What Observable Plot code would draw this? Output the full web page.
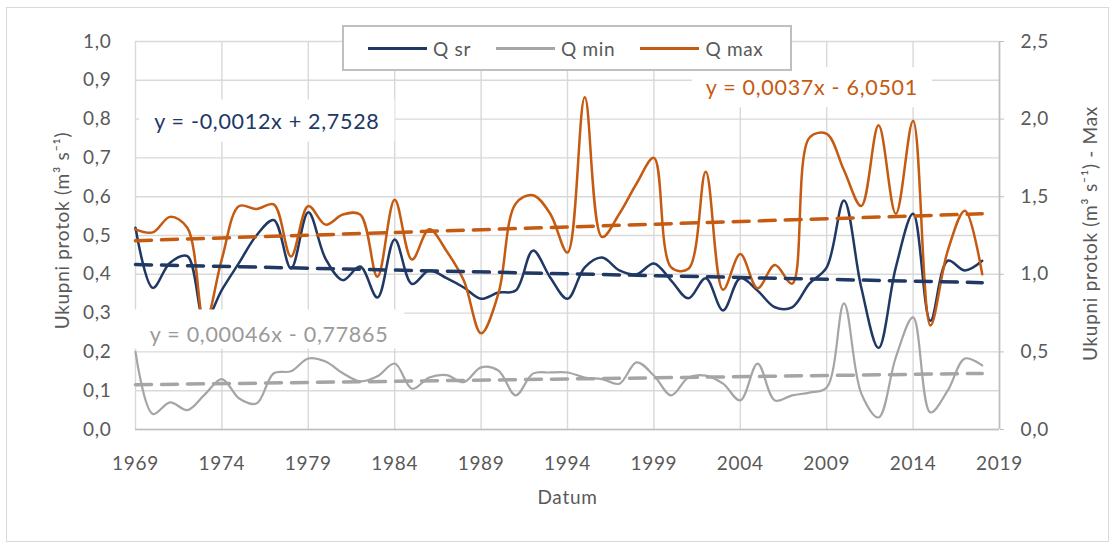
<!DOCTYPE html>
<html><head><meta charset="utf-8">
<script src="https://cdn.jsdelivr.net/npm/d3@7"></script>
<script src="https://cdn.jsdelivr.net/npm/@observablehq/plot@0.6"></script>
<style>
html,body{margin:0;padding:0;background:#fff;}
#wrap{position:relative;width:1115px;height:546px;font-family:Lato,"Open Sans",sans-serif;}
#wrap svg text{letter-spacing:0.7px;}
#border{position:absolute;left:6px;top:7px;width:1103px;height:535px;border:1px solid #d9d9d9;box-sizing:border-box;pointer-events:none;}
#legend{position:absolute;left:342px;top:25px;width:450px;height:46px;box-sizing:border-box;border:2px solid #bfbfbf;background:#fff;display:flex;align-items:center;padding-left:24px;color:#595959;font-size:19px;letter-spacing:0.7px;white-space:nowrap;}
#legend .item{display:flex;align-items:center;flex-shrink:0;white-space:nowrap;}
#legend .item + .item{margin-left:25px;}
#legend .sw{width:59px;height:3px;margin-right:6px;flex-shrink:0;}
</style></head><body>
<div id="wrap"><div id="border"></div></div>
<script>
const years = [1969,1970,1971,1972,1973,1974,1975,1976,1977,1978,1979,1980,1981,1982,1983,1984,1985,1986,1987,1988,1989,1990,1991,1992,1993,1994,1995,1996,1997,1998,1999,2000,2001,2002,2003,2004,2005,2006,2007,2008,2009,2010,2011,2012,2013,2014,2015,2016,2017,2018];
const qSr = [0.52,0.365,0.43,0.447,0.28,0.36,0.43,0.50,0.54,0.415,0.56,0.44,0.385,0.42,0.34,0.49,0.375,0.41,0.39,0.366,0.337,0.353,0.358,0.461,0.392,0.337,0.418,0.443,0.41,0.40,0.428,0.384,0.338,0.39,0.307,0.39,0.358,0.315,0.315,0.376,0.418,0.59,0.366,0.21,0.418,0.556,0.28,0.435,0.41,0.435];
const qMin = [0.20,0.04,0.07,0.05,0.09,0.13,0.08,0.067,0.145,0.15,0.183,0.175,0.145,0.124,0.137,0.17,0.105,0.134,0.14,0.122,0.16,0.152,0.088,0.144,0.147,0.147,0.134,0.13,0.118,0.173,0.139,0.088,0.134,0.139,0.118,0.075,0.17,0.075,0.088,0.095,0.108,0.325,0.093,0.031,0.186,0.289,0.044,0.10,0.183,0.165];
const qMax = [1.29,1.27,1.37,1.30,0.68,1.10,1.44,1.42,1.45,1.115,1.44,1.32,1.385,1.385,0.985,1.48,1.095,1.29,1.15,0.96,0.62,0.875,1.455,1.51,1.39,1.14,2.14,1.24,1.39,1.585,1.75,1.045,1.035,1.66,0.90,1.13,0.91,1.06,0.94,1.88,1.905,1.67,1.44,1.96,1.39,1.99,0.67,1.15,1.41,1.00];
const seriesNames = ["Q sr","Q min","Q max"];
const xTicks = [1969,1974,1979,1984,1989,1994,1999,2004,2009,2014,2019];
const yTicks = [0,0.1,0.2,0.3,0.4,0.5,0.6,0.7,0.8,0.9,1.0];
const yRightTicks = [0,0.5,1.0,1.5,2.0,2.5];
const equationTexts = ["y = -0,0012x + 2,7528","y = 0,00046x - 0,77865","y = 0,0037x - 6,0501"];
const xTitle = "Datum";
const yTitle = "Ukupni protok (m³ s⁻¹)";
const y2Title = "Ukupni protok (m³ s⁻¹) - Max";

const LEFT_MAX = 1.0, RIGHT_MAX = 2.5;
const k = LEFT_MAX / RIGHT_MAX;
const colors = {sr: "#203864", min: "#a5a5a5", max: "#c55a11"};
const eqColors = {sr: "#203864", min: "#9a9a9a", max: "#c55a11"};
const rows = years.map((year, i) => ({year, sr: qSr[i], min: qMin[i], max: qMax[i] * k}));
const fmt = v => v.toFixed(1).replace(".", ",");
const dash = "16,10";

const chart = Plot.plot({
  width: 1115, height: 546,
  marginTop: 41, marginBottom: 117, marginLeft: 135, marginRight: 116,
  style: {fontFamily: "Lato, 'Open Sans', sans-serif", fontSize: "19px", color: "#595959", background: "transparent"},
  x: {domain: [1969, 2019]},
  y: {domain: [0, 1]},
  marks: [
    Plot.gridY(yTicks, {stroke: "#d9d9d9", strokeOpacity: 1, strokeWidth: 1.4}),
    Plot.gridX(xTicks, {stroke: "#d9d9d9", strokeOpacity: 1, strokeWidth: 1.4}),
    Plot.ruleY([0], {stroke: "#bfbfbf", strokeWidth: 1.6}),
    Plot.ruleX([2019], {stroke: "#bfbfbf", strokeWidth: 1.6}),
    Plot.axisX(xTicks, {tickFormat: d => String(d), tickSize: 0, tickPadding: 27, label: null, fontSize: 19}),
    Plot.axisY(yTicks, {tickFormat: fmt, tickSize: 0, tickPadding: 24, label: null, fontSize: 19}),
    Plot.axisY(yRightTicks.map(v => v * k), {anchor: "right", tickFormat: v => fmt(v / k), tickSize: 4, tickPadding: 17, stroke: "#bfbfbf", label: null, fontSize: 19}),
    Plot.text([xTitle], {frameAnchor: "bottom", dy: 68, textAnchor: "middle", lineAnchor: "middle", fontSize: 19, fill: "#595959"}),
    Plot.text([yTitle], {frameAnchor: "left", dx: -73, dy: -5, rotate: -90, textAnchor: "middle", lineAnchor: "middle", fontSize: 19, fill: "#595959"}),
    Plot.text([y2Title], {frameAnchor: "right", dx: 91, dy: -2, rotate: -90, textAnchor: "middle", lineAnchor: "middle", fontSize: 19, fill: "#595959"}),
    Plot.line(rows, {x: "year", y: "sr", curve: "catmull-rom", stroke: colors.sr, strokeWidth: 2.5}),
    Plot.line(rows, {x: "year", y: "min", curve: "catmull-rom", stroke: colors.min, strokeWidth: 2.2}),
    Plot.line(rows, {x: "year", y: "max", curve: "catmull-rom", stroke: colors.max, strokeWidth: 2.5}),
    Plot.linearRegressionY(rows, {x: "year", y: "sr", ci: 0, stroke: colors.sr, strokeWidth: 3.5, strokeDasharray: dash}),
    Plot.linearRegressionY(rows, {x: "year", y: "min", ci: 0, stroke: colors.min, strokeWidth: 3.5, strokeDasharray: dash}),
    Plot.linearRegressionY(rows, {x: "year", y: "max", ci: 0, stroke: colors.max, strokeWidth: 3.5, strokeDasharray: dash}),
    Plot.text([equationTexts[0]], {x: [1976.6], y: [0.791], fill: eqColors.sr, fontSize: 21.5, textAnchor: "middle"}),
    Plot.text([equationTexts[1]], {x: [1976.73], y: [0.242], fill: eqColors.min, fontSize: 21.5, textAnchor: "middle"}),
    Plot.text([equationTexts[2]], {x: [2008.14], y: [0.879], fill: eqColors.max, fontSize: 21.5, textAnchor: "middle"})
  ]
});

const wrap = document.getElementById("wrap");
wrap.insertBefore(chart, wrap.firstChild);

// white boxes behind trendline equations (like Excel label boxes): [padX, above centre, below centre]
const boxPads = [[15, 22, 20], [16, 25, 14], [14, 20, 20]];
d3.select(chart).selectAll("text").each(function() {
  const idx = equationTexts.indexOf(this.textContent);
  if (idx < 0) return;
  const [px, up, down] = boxPads[idx];
  const b = this.getBBox();
  const cy = b.y + b.height / 2;
  const r = document.createElementNS("http://www.w3.org/2000/svg", "rect");
  r.setAttribute("x", b.x - px);
  r.setAttribute("y", cy - up);
  r.setAttribute("width", b.width + 2 * px);
  r.setAttribute("height", up + down);
  r.setAttribute("fill", "#fff");
  r.setAttribute("stroke", "none");
  const t = this.getAttribute("transform");
  if (t) r.setAttribute("transform", t);
  this.parentNode.insertBefore(r, this);
});

// legend (overlaying the plot top like in the original)
const legend = d3.select(wrap).append("div").attr("id", "legend");
const legendColors = [colors.sr, colors.min, colors.max];
seriesNames.forEach((name, i) => {
  const it = legend.append("div").attr("class", "item");
  it.append("div").attr("class", "sw").style("background", legendColors[i]);
  it.append("span").text(name);
});
</script></body></html>
